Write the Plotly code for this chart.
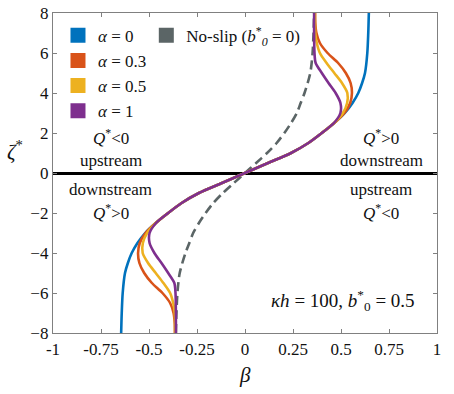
import plotly.graph_objects as go

# ---- data ----
zeta_a0 = [-8, -7, -6, -5, -4.5, -4, -3.5, -3, -2.5, -2, -1.5, -1, -0.5, 0,
           0.5, 1, 1.5, 2, 2.5, 3, 3.5, 4, 4.5, 5, 6, 7, 8]
beta_a0 = [-0.645, -0.642, -0.637, -0.625, -0.61, -0.59, -0.56, -0.52, -0.465, -0.40, -0.33, -0.24, -0.12, 0,
           0.12, 0.24, 0.33, 0.40, 0.465, 0.52, 0.56, 0.59, 0.61, 0.625, 0.637, 0.642, 0.645]

zeta_a03 = [-8, -7.5, -7, -6.5, -6, -5.5, -5, -4.5, -4, -3.5, -3, -2.5, -2, -1.5, -1, -0.5, 0,
            0.5, 1, 1.5, 2, 2.5, 3, 3.5, 4, 4.5, 5, 5.5, 6, 6.5, 7, 7.5, 8]
beta_a03 = [-0.365, -0.366, -0.372, -0.39, -0.43, -0.485, -0.525, -0.55, -0.557, -0.548, -0.518, -0.465, -0.40,
            -0.33, -0.24, -0.12, 0, 0.12, 0.24, 0.33, 0.40, 0.465, 0.518, 0.548, 0.557, 0.55,
            0.525, 0.485, 0.43, 0.39, 0.372, 0.366, 0.365]

zeta_a05 = [-8, -7, -6.5, -6, -5.5, -5, -4.5, -4, -3.5, -3, -2.5, -2, -1.5, -1, -0.5, 0,
            0.5, 1, 1.5, 2, 2.5, 3, 3.5, 4, 4.5, 5, 5.5, 6, 6.5, 7, 8]
beta_a05 = [-0.364, -0.366, -0.374, -0.39, -0.425, -0.465, -0.505, -0.533, -0.532, -0.51, -0.464, -0.40,
            -0.33, -0.24, -0.12, 0, 0.12, 0.24, 0.33, 0.40, 0.464, 0.51, 0.532, 0.533, 0.505,
            0.465, 0.425, 0.39, 0.374, 0.366, 0.364]

zeta_a1 = [-8, -7, -6, -5.5, -5, -4.5, -4, -3.5, -3, -2.5, -2, -1.5, -1, -0.5, 0,
           0.5, 1, 1.5, 2, 2.5, 3, 3.5, 4, 4.5, 5, 5.5, 6, 7, 8]
beta_a1 = [-0.36, -0.36, -0.362, -0.368, -0.40, -0.435, -0.472, -0.497, -0.497, -0.463, -0.40, -0.33,
           -0.24, -0.12, 0, 0.12, 0.24, 0.33, 0.40, 0.463, 0.497, 0.497, 0.472, 0.435, 0.40,
           0.368, 0.362, 0.36, 0.36]

zeta_ns = [-8, -7, -6, -5, -4, -3.5, -3, -2.5, -2, -1.5, -1, -0.5, 0,
           0.5, 1, 1.5, 2, 2.5, 3, 3.5, 4, 5, 6, 7, 8]
beta_ns = [-0.36, -0.357, -0.352, -0.34, -0.31, -0.29, -0.27, -0.24, -0.205, -0.165, -0.115, -0.058, 0,
           0.058, 0.115, 0.165, 0.205, 0.24, 0.27, 0.29, 0.31, 0.34, 0.352, 0.357, 0.36]

x_ticks = [-1, -0.75, -0.5, -0.25, 0, 0.25, 0.5, 0.75, 1]
x_ticklabels = ["-1", "-0.75", "-0.5", "-0.25", "0", "0.25", "0.5", "0.75", "1"]
y_ticks = [-8, -6, -4, -2, 0, 2, 4, 6, 8]

series = [
    ("<i>α</i> = 0", zeta_a0, beta_a0, "#0072BD"),
    ("<i>α</i> = 0.3", zeta_a03, beta_a03, "#D95319"),
    ("<i>α</i> = 0.5", zeta_a05, beta_a05, "#EDB120"),
    ("<i>α</i> = 1", zeta_a1, beta_a1, "#7E2F8E"),
]
ns_color = "#5B6566"
FONT = "'Liberation Serif', 'Times New Roman', 'DejaVu Serif', serif"

fig = go.Figure()

fig.add_trace(go.Scatter(x=beta_ns, y=zeta_ns, mode="lines",
                         line=dict(color=ns_color, width=2.6, dash="9px,5px", shape="spline", smoothing=0.8),
                         showlegend=False, hoverinfo="skip"))
for name, z, b, c in series:
    fig.add_trace(go.Scatter(x=b, y=z, mode="lines", line=dict(color=c, width=2.6, shape="spline", smoothing=0.8),
                             showlegend=False, hoverinfo="skip"))

# legend entries (square swatches)
for name, z, b, c in series:
    fig.add_trace(go.Scatter(x=[None], y=[None], mode="markers", name=name,
                             marker=dict(symbol="square", size=15, color=c), legend="legend"))
fig.add_trace(go.Scatter(x=[None], y=[None], mode="markers",
                         name="No-slip (<i>b</i><sup>*</sup><sub><i>0</i></sub> = 0)",
                         marker=dict(symbol="square", size=15, color=ns_color), legend="legend2"))

axis_common = dict(showline=True, linecolor="#808080", linewidth=1.3, mirror="ticks", ticks="inside",
                   ticklen=4, tickcolor="#808080", showgrid=False, automargin=False,
                   tickfont=dict(family=FONT, size=17, color="#111"))

fig.update_layout(
    width=454, height=394,
    margin=dict(l=53, r=17, t=13, b=61, autoexpand=False),
    paper_bgcolor="white", plot_bgcolor="white",
    font=dict(family=FONT, size=17, color="#111"),
    xaxis=dict(range=[-1, 1], tickvals=x_ticks, ticktext=x_ticklabels, zeroline=False, **axis_common),
    yaxis=dict(range=[-8, 8], tickvals=y_ticks, zeroline=True, zerolinecolor="black", zerolinewidth=2.5,
               **axis_common),
    legend=dict(x=0.013, y=0.985, xanchor="left", yanchor="top", bgcolor="rgba(0,0,0,0)",
                font=dict(family=FONT, size=17), tracegroupgap=0, itemwidth=30),
    legend2=dict(x=0.243, y=0.985, xanchor="left", yanchor="top", bgcolor="rgba(0,0,0,0)",
                 font=dict(family=FONT, size=17), itemwidth=30),
)

texts = [
    (-0.70, 1.8, "<i>Q</i><sup>*</sup>&lt;0", 17),
    (-0.70, 0.65, "upstream", 17),
    (-0.70, -0.82, "downstream", 17),
    (-0.70, -1.95, "<i>Q</i><sup>*</sup>&gt;0", 17),
    (0.71, 1.8, "<i>Q</i><sup>*</sup>&gt;0", 17),
    (0.71, 0.65, "downstream", 17),
    (0.71, -0.82, "upstream", 17),
    (0.71, -1.95, "<i>Q</i><sup>*</sup>&lt;0", 17),
    (0.51, -6.35, "<i>κh</i> = 100, <i>b</i><sup>*</sup><sub>0</sub> = 0.5", 19),
]
for x, y, t, s in texts:
    fig.add_annotation(x=x, y=y, text=t, showarrow=False, font=dict(family=FONT, size=s, color="#111"),
                       xanchor="center", yanchor="middle")

fig.add_annotation(xref="paper", yref="paper", x=-0.1, y=0.57, text="<i>ζ</i><sup>*</sup>", showarrow=False,
                   font=dict(family=FONT, size=21, color="#111"), xanchor="center", yanchor="middle")
fig.add_annotation(xref="paper", yref="paper", x=0.5, y=-0.13, text="<i>β</i>", showarrow=False,
                   font=dict(family=FONT, size=21, color="#111"), xanchor="center", yanchor="middle")

fig.write_html("out.html", config={"displayModeBar": False},
               post_script="document.body.style.margin='0';")
